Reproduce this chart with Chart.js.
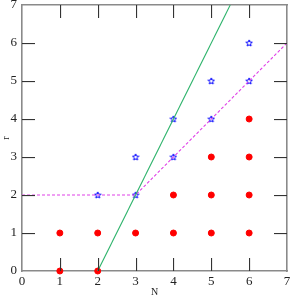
<!DOCTYPE html>
<html>
<head>
<meta charset="utf-8">
<script src="https://cdn.jsdelivr.net/npm/chart.js@4"></script>
<style>
  html, body { margin: 0; padding: 0; background: #fff; }
  #wrap { width: 292px; height: 299px; }
</style>
</head>
<body>
<div id="wrap"><canvas id="grafico"></canvas></div>
<script>
// pontos vermelhos (N, r)
const pontosN = [1, 2, 1, 2, 3, 4, 5, 6, 4, 5, 6, 5, 6, 6];
const pontosR = [0, 0, 1, 1, 1, 1, 1, 1, 2, 2, 2, 3, 3, 4];
// estrelas azuis
const estrelasN = [2, 3, 3, 4, 4, 5, 5, 6, 6];
const estrelasR = [2, 2, 3, 3, 4, 4, 5, 5, 6];
// reta verde e linha tracejada magenta
const retaN = [2, 5.5];
const retaR = [0, 7];
const tracoN = [0, 3, 7];
const tracoR = [2, 2, 6];
const ticksEixo = [0, 1, 2, 3, 4, 5, 6, 7];

const juntar = (xs, ys) => xs.map((x, i) => ({ x: x, y: ys[i] }));

// estrela de 5 pontas desenhada numa tela pequena
function criarEstrela() {
    const c = document.createElement('canvas');
    c.width = 8; c.height = 8;
    const g = c.getContext('2d');
    g.strokeStyle = '#0000ff';
    g.lineWidth = 1;
    g.beginPath();
    for (let i = 0; i < 10; i++) {
        const r = i % 2 === 0 ? 3.4 : 1.5;
        const a = -Math.PI / 2 + i * Math.PI / 5;
        const px = 4 + r * Math.cos(a), py = 4.3 + r * Math.sin(a);
        if (i === 0) g.moveTo(px, py); else g.lineTo(px, py);
    }
    g.closePath();
    g.stroke();
    return c;
}

// ticks internos desenhados por cima, nos quatro lados
const ticksInternos = {
    id: 'ticksInternos',
    afterDatasetsDraw(chart) {
        const ctx = chart.ctx;
        const a = chart.chartArea;
        const sx = chart.scales.x, sy = chart.scales.y;
        ctx.save();
        ctx.fillStyle = '#333333';
        ticksEixo.slice(1, -1).forEach(v => {
            const px = Math.round(sx.getPixelForValue(v));
            const py = Math.round(sy.getPixelForValue(v));
            ctx.fillRect(px, a.bottom - 13, 1.1, 13);
            ctx.fillRect(px, a.top, 1.1, 13);
            ctx.fillRect(a.left, py, 13, 1.1);
            ctx.fillRect(a.right - 13, py, 13, 1.1);
        });
        ctx.restore();
    }
};

const fonte = { family: 'Liberation Serif', size: 13 };
const semFolga = s => { s.paddingTop = 0; s.paddingBottom = 0; s.paddingLeft = 0; s.paddingRight = 0; };
const fixarTicks = s => { s.ticks = ticksEixo.map(v => ({ value: v })); };

const grade = { display: true, drawOnChartArea: false, drawTicks: false };
const moldura = { display: true, color: '#8a8a8a', width: 1.6 };

new Chart(document.getElementById('grafico'), {
    type: 'scatter',
    data: {
        datasets: [
            { type: 'line', data: juntar(retaN, retaR), borderColor: '#2db36b', borderWidth: 1.1, pointRadius: 0, fill: false },
            { type: 'line', data: juntar(tracoN, tracoR), borderColor: '#e040e8', borderWidth: 1.1, borderDash: [3, 2], pointRadius: 0, fill: false },
            { data: juntar(pontosN, pontosR), backgroundColor: '#ff0000', borderColor: '#ff0000', pointRadius: 3, clip: false },
            { data: juntar(estrelasN, estrelasR), pointStyle: criarEstrela(), clip: false }
        ]
    },
    options: {
        responsive: true,
        maintainAspectRatio: false,
        animation: false,
        layout: { padding: { top: 5, right: 3, left: 0, bottom: 0 } },
        plugins: { legend: { display: false }, tooltip: { enabled: false } },
        scales: {
            x: {
                type: 'linear', position: 'bottom',
                min: 0, max: 7,
                afterBuildTicks: fixarTicks,
                grid: grade,
                border: moldura,
                ticks: { color: '#222', font: fonte, padding: 3, maxRotation: 0 },
                title: { display: true, text: 'N', color: '#222', font: { family: 'Liberation Serif', size: 10 }, padding: { top: 0, bottom: 1 } },
                afterFit: s => { s.height = 28; semFolga(s); }
            },
            y: {
                type: 'linear', position: 'left',
                min: 0, max: 7,
                afterBuildTicks: fixarTicks,
                grid: grade,
                border: moldura,
                ticks: { color: '#222', font: fonte, padding: 5 },
                title: { display: true, text: 'r', color: '#222', font: { family: 'Liberation Serif', size: 10 }, padding: { top: 0, bottom: 0 } },
                afterFit: s => { s.width = 22; semFolga(s); }
            },
            x2: {
                type: 'linear', position: 'top',
                min: 0, max: 7,
                afterBuildTicks: fixarTicks,
                grid: grade,
                border: moldura,
                ticks: { display: false },
                afterFit: s => { s.height = 0; semFolga(s); }
            },
            y2: {
                type: 'linear', position: 'right',
                min: 0, max: 7,
                afterBuildTicks: fixarTicks,
                grid: grade,
                border: moldura,
                ticks: { display: false },
                afterFit: s => { s.width = 0; semFolga(s); }
            }
        }
    },
    plugins: [ticksInternos]
});
</script>
</body>
</html>
